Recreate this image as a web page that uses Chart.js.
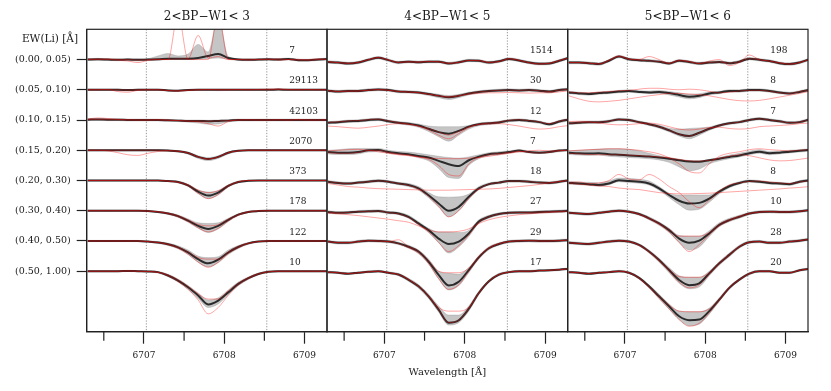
<!DOCTYPE html>
<html>
<head>
<meta charset="utf-8">
<script src="https://cdn.jsdelivr.net/npm/chart.js@4.4.1/dist/chart.umd.min.js"></script>
<style>
html, body { margin: 0; padding: 0; background: #fff; }
#wrap { position: relative; width: 831px; height: 391px; overflow: hidden; }
canvas { position: absolute; top: 0; }
</style>
</head>
<body>
<div id="wrap">
  <canvas id="c1" width="328" height="391" style="left:0px;width:328px;height:391px"></canvas>
  <canvas id="c2" width="255" height="391" style="left:320px;width:255px;height:391px"></canvas>
  <canvas id="c3" width="260" height="391" style="left:560px;width:260px;height:391px"></canvas>
</div>
<script>
// wavelength grid of the sampled spectra
var wl = [6706.300,6706.425,6706.550,6706.675,6706.800,6706.925,6707.050,6707.175,6707.300,6707.425,6707.550,6707.675,
          6707.800,6707.925,6708.050,6708.175,6708.300,6708.425,6708.550,6708.675,6708.800,6708.925,6709.050,6709.175,6709.300];

var ewBins = ['(0.00, 0.05)','(0.05, 0.10)','(0.10, 0.15)','(0.15, 0.20)','(0.20, 0.30)','(0.30, 0.40)','(0.40, 0.50)','(0.50, 1.00)'];
var panelTitles = ['2<BP\u2212W1< 3','4<BP\u2212W1< 5','5<BP\u2212W1< 6'];
var counts1 = [7, 29113, 42103, 2070, 373, 178, 122, 10];
var counts2 = [1514, 30, 12, 7, 18, 27, 29, 17];
var counts3 = [198, 8, 7, 6, 8, 10, 28, 20];
var majorTicks = [6707, 6708, 6709];
var minorTicks = [6706.5, 6707.5, 6708.5];
var liWindow = [6707.03, 6708.53];
var countPos = 6708.81;

// panel 1 : mean, band and a couple of single spectra (offsets from each row's baseline)
var mean1 = [
 [0,0.01,0,-0.01,0,-0.01,0,0.01,0.03,0.03,0.03,0.05,0.12,0.18,0.05,0,-0.01,0,0.01,0,0.02,-0.02,-0.02,0,0.02],
 [0,0,0,0,-0.01,0,0,0,-0.02,-0.03,-0.01,0,0,0,0,0,0,0,0,0.01,0,0,0,0,0],
 [0.01,0.02,0.01,0.01,0,0,0,0,-0.01,-0.02,-0.03,-0.03,-0.04,-0.03,-0.02,0,0,0,0,0,0,0,0,0,0],
 [0,0,0,0,0,0,0,0,-0.01,-0.03,-0.09,-0.22,-0.29,-0.22,-0.08,-0.02,0,0,0,0,0,0,0,0,0],
 [0,0,0,0,0,0,0,0,-0.02,-0.05,-0.16,-0.37,-0.5,-0.4,-0.18,-0.05,-0.01,0,0,0,0,0,0,0,0],
 [0,0,0,0,0,0,-0.01,-0.04,-0.09,-0.18,-0.33,-0.5,-0.6,-0.5,-0.3,-0.13,-0.04,-0.01,0,0,0,0,0,0,0],
 [0,0,0,0,0,0,-0.02,-0.05,-0.11,-0.21,-0.38,-0.6,-0.74,-0.62,-0.38,-0.2,-0.08,-0.02,0,0,0,0,0,0,0],
 [0,0,0,0,0.01,0,-0.01,-0.03,-0.14,-0.31,-0.53,-0.8,-1.1,-0.97,-0.7,-0.42,-0.23,-0.09,-0.02,0,0,0,0,0,0]
];
var lo1 = [
 [-0.03,-0.02,-0.03,-0.04,-0.03,-0.05,-0.03,-0.02,0,0,0,0.01,0.03,0.05,0.01,-0.03,-0.04,-0.03,-0.02,-0.03,-0.01,-0.05,-0.05,-0.03,-0.01],
 [-0.02,-0.02,-0.02,-0.03,-0.04,-0.02,-0.02,-0.02,-0.04,-0.05,-0.03,-0.02,-0.02,-0.03,-0.02,-0.02,-0.02,-0.02,-0.02,-0.01,-0.02,-0.02,-0.02,-0.02,-0.02],
 [-0.02,-0.01,-0.02,-0.02,-0.03,-0.03,-0.03,-0.03,-0.04,-0.05,-0.07,-0.1,-0.14,-0.13,-0.06,-0.03,-0.03,-0.03,-0.03,-0.03,-0.03,-0.03,-0.03,-0.03,-0.03],
 [-0.02,-0.02,-0.02,-0.02,-0.02,-0.02,-0.02,-0.02,-0.03,-0.06,-0.13,-0.27,-0.34,-0.27,-0.12,-0.04,-0.02,-0.02,-0.02,-0.02,-0.02,-0.02,-0.02,-0.02,-0.02],
 [-0.02,-0.02,-0.02,-0.02,-0.02,-0.02,-0.02,-0.02,-0.04,-0.08,-0.2,-0.44,-0.6,-0.48,-0.22,-0.08,-0.03,-0.02,-0.02,-0.02,-0.02,-0.02,-0.02,-0.02,-0.02],
 [-0.02,-0.02,-0.02,-0.02,-0.02,-0.02,-0.03,-0.06,-0.12,-0.22,-0.38,-0.58,-0.72,-0.6,-0.36,-0.16,-0.06,-0.03,-0.02,-0.02,-0.02,-0.02,-0.02,-0.02,-0.02],
 [-0.02,-0.02,-0.02,-0.02,-0.02,-0.02,-0.04,-0.08,-0.15,-0.26,-0.45,-0.7,-0.86,-0.72,-0.45,-0.25,-0.11,-0.04,-0.02,-0.02,-0.02,-0.02,-0.02,-0.02,-0.02],
 [-0.02,-0.02,-0.02,-0.02,-0.01,-0.02,-0.03,-0.06,-0.18,-0.36,-0.6,-0.9,-1.2,-1.08,-0.78,-0.48,-0.27,-0.12,-0.04,-0.02,-0.02,-0.02,-0.02,-0.02,-0.02]
];
var hi1 = [
 [0.03,0.04,0.03,0.02,0.03,0.02,0.03,0.12,0.2,0.12,0.18,0.5,0.25,1.4,0.1,0.03,0.02,0.03,0.04,0.03,0.05,0.01,0.01,0.03,0.05],
 [0.02,0.02,0.02,0.02,0.01,0.02,0.02,0.02,0,-0.01,0.01,0.02,0.02,0.02,0.02,0.02,0.02,0.02,0.02,0.03,0.02,0.02,0.02,0.02,0.02],
 [0.04,0.05,0.04,0.04,0.03,0.03,0.03,0.03,0.02,0.01,0,0,-0.01,0,0.01,0.03,0.03,0.03,0.03,0.03,0.03,0.03,0.03,0.03,0.03],
 [0.02,0.02,0.02,0.02,0.02,0.02,0.02,0.02,0.01,-0.01,-0.06,-0.18,-0.24,-0.18,-0.05,0,0.02,0.02,0.02,0.02,0.02,0.02,0.02,0.02,0.02],
 [0.02,0.02,0.02,0.02,0.02,0.02,0.02,0.02,0,-0.02,-0.12,-0.31,-0.38,-0.33,-0.14,-0.02,0.01,0.02,0.02,0.02,0.02,0.02,0.02,0.02,0.02],
 [0.02,0.02,0.02,0.02,0.02,0.02,0.01,-0.02,-0.06,-0.14,-0.27,-0.4,-0.42,-0.4,-0.25,-0.1,-0.02,0.01,0.02,0.02,0.02,0.02,0.02,0.02,0.02],
 [0.02,0.02,0.02,0.02,0.02,0.02,0,-0.02,-0.07,-0.16,-0.3,-0.5,-0.55,-0.52,-0.3,-0.15,-0.05,0,0.02,0.02,0.02,0.02,0.02,0.02,0.02],
 [0.02,0.02,0.02,0.02,0.03,0.02,0.01,-0.01,-0.1,-0.26,-0.47,-0.72,-0.95,-0.88,-0.62,-0.36,-0.19,-0.06,0,0.02,0.02,0.02,0.02,0.02,0.02]
];
var redA1 = [
 [0,0.02,0,-0.02,-0.05,-0.1,-0.03,0,0,1.5,0,0,0,1.5,0,0,-0.02,0,0,0.02,0,-0.02,0,0.02,0],
 [0,0,0.01,-0.06,-0.08,-0.02,0,0,-0.03,-0.05,-0.02,0,0.01,0,0,0.01,0,0.01,0.02,0.03,0.01,0,0.01,0,0],
 [0.03,0.07,0.05,0.02,0.01,0,0,0.01,0,-0.02,-0.04,-0.06,-0.12,-0.2,-0.05,0,0.01,0,0,0.01,0,0.02,0,0,0.01],
 [0,0,-0.02,-0.08,-0.15,-0.17,-0.1,-0.04,-0.02,-0.03,-0.09,-0.22,-0.29,-0.22,-0.08,-0.02,0,0,0,0,0,0,0,0,0],
 [0,0,0,0,0,0,0,0,-0.02,-0.05,-0.14,-0.32,-0.4,-0.34,-0.16,-0.04,0,0,0,0,0,0,0,0,0],
 [0,0,0,0,0,0,-0.01,-0.03,-0.08,-0.16,-0.3,-0.45,-0.5,-0.46,-0.28,-0.12,-0.03,0,0,0,0,0,0,0,0],
 [0,0,0,0,0,0,-0.02,-0.05,-0.1,-0.2,-0.36,-0.55,-0.6,-0.6,-0.36,-0.18,-0.07,-0.02,0,0,0,0,0,0,0],
 [0,0,0,0,0.01,0,-0.01,-0.03,-0.12,-0.28,-0.5,-0.75,-0.92,-0.92,-0.65,-0.4,-0.21,-0.08,-0.02,0,0,0,0,0,0]
];
var redB1 = [
 [0.01,0,0.02,0,0,-0.02,0,0.01,0,0.02,0.02,0.8,0.05,0.1,0,0,0.01,0,0.02,-0.02,0,0.01,-0.03,0,0.02],
 null, null, null,
 [0,0,0,0,0,0,0,0,-0.02,-0.06,-0.18,-0.42,-0.6,-0.46,-0.2,-0.05,0,0,0,0,0,0,0,0,0],
 [0,0,0,0,0,0,-0.01,-0.04,-0.1,-0.2,-0.36,-0.56,-0.7,-0.58,-0.34,-0.15,-0.05,-0.01,0,0,0,0,0,0,0],
 [0,0,0,0,0,0,-0.02,-0.05,-0.12,-0.24,-0.44,-0.7,-0.87,-0.7,-0.42,-0.22,-0.09,-0.02,0,0,0,0,0,0,0],
 [0,0,0,0,0.01,0,-0.01,-0.04,-0.15,-0.34,-0.6,-0.95,-1.41,-1.2,-0.8,-0.46,-0.25,-0.1,-0.02,0,0,0,0,0,0]
];

// panel 2
var mean2 = [
 [-0.08,-0.1,-0.13,-0.1,-0.01,0.06,-0.02,-0.1,-0.07,-0.09,-0.07,-0.07,-0.13,-0.09,-0.03,-0.04,-0.1,-0.06,0.02,-0.03,-0.1,-0.14,-0.13,-0.04,0.06],
 [-0.03,-0.06,-0.04,-0.04,-0.01,0.01,-0.01,-0.06,-0.07,-0.09,-0.14,-0.2,-0.25,-0.2,-0.12,-0.07,-0.04,-0.02,-0.01,-0.02,-0.01,-0.03,-0.06,-0.01,0.02],
 [-0.09,-0.07,-0.04,-0.03,0,0.02,-0.04,-0.09,-0.12,-0.18,-0.29,-0.4,-0.45,-0.36,-0.22,-0.14,-0.11,-0.08,-0.02,0,-0.03,-0.07,-0.14,-0.05,0.02],
 [-0.06,-0.08,-0.08,-0.06,0,0.01,-0.06,-0.1,-0.13,-0.19,-0.24,-0.35,-0.46,-0.52,-0.33,-0.21,-0.13,-0.1,-0.06,-0.01,-0.06,-0.08,-0.06,-0.01,0.01],
 [-0.04,-0.08,-0.1,-0.07,-0.04,-0.01,-0.04,-0.1,-0.15,-0.26,-0.49,-0.76,-1.0,-0.87,-0.54,-0.26,-0.12,-0.07,-0.02,-0.02,-0.04,-0.07,-0.08,-0.04,0.01],
 [-0.04,-0.07,-0.06,-0.03,-0.02,-0.01,-0.06,-0.09,-0.2,-0.42,-0.64,-0.92,-1.1,-1.02,-0.75,-0.36,-0.2,-0.11,-0.07,-0.06,-0.06,-0.04,-0.03,-0.02,0],
 [-0.02,-0.06,-0.06,-0.02,0.01,0,-0.02,-0.08,-0.19,-0.35,-0.68,-1.12,-1.47,-1.35,-0.96,-0.54,-0.24,-0.1,-0.02,0,0.01,0,0,0.01,0.03],
 [-0.03,-0.05,-0.08,-0.05,-0.02,0,-0.05,-0.11,-0.28,-0.5,-0.83,-1.27,-1.7,-1.62,-1.24,-0.72,-0.33,-0.11,-0.03,0,0,0.02,0.03,0.05,0.08]
];
var lo2 = [
 [-0.12,-0.14,-0.17,-0.14,-0.05,0.02,-0.06,-0.14,-0.11,-0.13,-0.11,-0.11,-0.17,-0.13,-0.07,-0.08,-0.14,-0.1,-0.02,-0.07,-0.14,-0.18,-0.17,-0.08,0.02],
 [-0.07,-0.1,-0.08,-0.08,-0.05,-0.03,-0.05,-0.1,-0.11,-0.13,-0.19,-0.26,-0.32,-0.26,-0.17,-0.11,-0.08,-0.06,-0.05,-0.06,-0.05,-0.07,-0.1,-0.05,-0.02],
 [-0.13,-0.11,-0.08,-0.07,-0.04,-0.02,-0.08,-0.13,-0.17,-0.24,-0.38,-0.55,-0.7,-0.5,-0.3,-0.19,-0.15,-0.12,-0.06,-0.04,-0.07,-0.11,-0.18,-0.09,-0.02],
 [-0.12,-0.14,-0.14,-0.12,-0.06,-0.05,-0.1,-0.14,-0.17,-0.25,-0.35,-0.6,-0.9,-0.93,-0.5,-0.28,-0.18,-0.15,-0.1,-0.06,-0.09,-0.11,-0.09,-0.05,-0.03],
 [-0.08,-0.12,-0.14,-0.11,-0.08,-0.05,-0.08,-0.14,-0.2,-0.32,-0.57,-0.88,-1.2,-1.0,-0.62,-0.31,-0.16,-0.11,-0.06,-0.06,-0.08,-0.11,-0.12,-0.08,-0.03],
 [-0.08,-0.11,-0.1,-0.07,-0.06,-0.05,-0.1,-0.13,-0.25,-0.48,-0.72,-1.05,-1.4,-1.2,-0.85,-0.42,-0.25,-0.15,-0.11,-0.1,-0.1,-0.08,-0.07,-0.06,-0.04],
 [-0.06,-0.1,-0.1,-0.06,-0.03,-0.04,-0.06,-0.12,-0.24,-0.42,-0.76,-1.25,-1.62,-1.48,-1.05,-0.6,-0.29,-0.14,-0.06,-0.04,-0.03,-0.04,-0.04,-0.03,-0.01],
 [-0.06,-0.08,-0.11,-0.08,-0.05,-0.03,-0.08,-0.15,-0.33,-0.56,-0.9,-1.35,-1.78,-1.7,-1.32,-0.78,-0.37,-0.15,-0.06,-0.03,-0.03,-0.01,0,0.02,0.05]
];
var hi2 = [
 [-0.04,-0.06,-0.09,-0.06,0.03,0.1,0.02,-0.06,-0.03,-0.05,-0.03,-0.03,-0.09,-0.05,0.01,0,-0.06,-0.02,0.06,0.01,-0.06,-0.1,-0.09,0,0.1],
 [0.01,-0.02,0,0,0.03,0.05,0.03,-0.02,-0.03,-0.05,-0.1,-0.15,-0.19,-0.15,-0.08,-0.03,0,0.02,0.03,0.02,0.03,0.01,-0.02,0.03,0.06],
 [-0.05,-0.03,0,0.01,0.04,0.06,0,-0.05,-0.08,-0.13,-0.2,-0.22,-0.22,-0.22,-0.18,-0.1,-0.07,-0.04,0.02,0.04,0.01,-0.03,-0.1,-0.01,0.06],
 [0,0.02,0.05,0.06,0.06,0.06,0,-0.04,-0.06,-0.1,-0.15,-0.2,-0.24,-0.26,-0.22,-0.15,-0.08,-0.05,-0.02,0.02,-0.02,-0.04,-0.02,0.02,0.04],
 [0,-0.04,-0.06,-0.03,0,0.03,0,-0.06,-0.1,-0.2,-0.4,-0.54,-0.55,-0.54,-0.45,-0.2,-0.08,-0.03,0.02,0.02,0,-0.03,-0.04,0,0.05],
 [0,-0.03,-0.02,0.01,0.02,0.03,-0.02,-0.05,-0.15,-0.36,-0.58,-0.7,-0.7,-0.72,-0.65,-0.3,-0.15,-0.07,-0.03,-0.02,-0.02,0,0.01,0.02,0.04],
 [0.02,-0.02,-0.02,0.02,0.05,0.04,0.02,-0.04,-0.14,-0.3,-0.6,-1.0,-1.07,-1.1,-0.88,-0.48,-0.19,-0.06,0.02,0.04,0.05,0.04,0.04,0.05,0.07],
 [0,-0.02,-0.05,-0.02,0.01,0.03,-0.02,-0.07,-0.23,-0.44,-0.76,-1.15,-1.45,-1.45,-1.15,-0.66,-0.29,-0.07,0,0.03,0.03,0.05,0.06,0.08,0.11]
];
var redA2 = [
 [-0.07,-0.1,-0.12,-0.09,0,0.07,-0.01,-0.09,-0.08,-0.08,-0.06,-0.08,-0.12,-0.1,-0.03,-0.03,-0.09,-0.07,0.03,-0.02,-0.11,-0.15,-0.12,-0.03,0.06],
 [-0.03,-0.05,-0.05,-0.04,-0.02,0,-0.02,-0.05,-0.08,-0.1,-0.15,-0.2,-0.22,-0.2,-0.15,-0.12,-0.1,-0.1,-0.09,-0.1,-0.11,-0.1,-0.1,-0.07,-0.03],
 [-0.2,-0.22,-0.25,-0.27,-0.24,-0.2,-0.15,-0.12,-0.14,-0.2,-0.28,-0.4,-0.5,-0.38,-0.22,-0.15,-0.13,-0.12,-0.15,-0.2,-0.26,-0.3,-0.28,-0.22,-0.18],
 [-0.02,0,0.02,0.03,0,-0.05,-0.1,-0.15,-0.18,-0.22,-0.26,-0.27,-0.28,-0.28,-0.26,-0.24,-0.2,-0.15,-0.1,-0.05,-0.02,0,-0.02,-0.01,0],
 [-0.1,-0.15,-0.2,-0.22,-0.25,-0.27,-0.28,-0.29,-0.3,-0.31,-0.32,-0.32,-0.32,-0.31,-0.3,-0.29,-0.28,-0.26,-0.23,-0.2,-0.17,-0.13,-0.08,-0.03,0],
 [-0.08,-0.1,-0.13,-0.16,-0.2,-0.24,-0.28,-0.33,-0.38,-0.5,-0.63,-0.7,-0.7,-0.68,-0.6,-0.42,-0.3,-0.22,-0.17,-0.13,-0.1,-0.08,-0.06,-0.04,-0.02],
 [-0.02,-0.05,-0.05,-0.02,0.01,0,-0.02,0.04,-0.18,-0.33,-0.65,-1.0,-1.05,-1.05,-0.9,-0.5,-0.22,-0.08,-0.02,0.01,0.01,0,0,0.01,0.03],
 [-0.03,-0.05,-0.08,-0.05,-0.02,0,-0.05,-0.11,-0.27,-0.5,-0.82,-1.2,-1.32,-1.32,-1.2,-0.72,-0.33,-0.11,-0.03,0,0,0.02,0.03,0.05,0.08]
];
var redB2 = [
 null, null,
 [-0.08,-0.06,-0.03,-0.02,0.01,0.03,-0.03,-0.08,-0.13,-0.2,-0.33,-0.5,-0.62,-0.45,-0.25,-0.14,-0.1,-0.07,-0.01,0.01,-0.02,-0.06,-0.12,-0.04,0.03],
 [-0.08,-0.1,-0.1,-0.07,-0.01,0,-0.07,-0.12,-0.15,-0.22,-0.3,-0.5,-0.8,-0.85,-0.45,-0.24,-0.14,-0.11,-0.07,-0.03,-0.07,-0.09,-0.07,-0.02,0],
 [-0.04,-0.08,-0.1,-0.07,-0.04,-0.01,-0.04,-0.1,-0.16,-0.28,-0.52,-0.85,-1.2,-1.0,-0.6,-0.28,-0.12,-0.07,-0.02,-0.02,-0.04,-0.07,-0.08,-0.04,0.01],
 [-0.04,-0.07,-0.06,-0.03,-0.02,-0.01,-0.06,-0.1,-0.22,-0.45,-0.7,-1.05,-1.35,-1.15,-0.8,-0.38,-0.2,-0.11,-0.07,-0.06,-0.06,-0.04,-0.03,-0.02,0],
 [-0.02,-0.06,-0.06,-0.02,0.01,0,-0.02,-0.09,-0.22,-0.4,-0.75,-1.25,-1.6,-1.45,-1.0,-0.56,-0.25,-0.1,-0.02,0,0.01,0,0,0.01,0.03],
 null
];

// panel 3
var mean3 = [
 [-0.1,-0.1,-0.12,-0.15,-0.04,0.1,0.01,-0.02,-0.04,-0.07,-0.13,-0.04,-0.08,-0.13,-0.1,-0.08,-0.12,-0.07,0.03,-0.01,-0.05,-0.12,-0.15,-0.1,0.01],
 [-0.09,-0.12,-0.14,-0.11,-0.09,-0.06,-0.04,-0.07,-0.09,-0.07,-0.11,-0.17,-0.23,-0.2,-0.12,-0.09,-0.04,-0.04,-0.01,-0.01,-0.04,-0.09,-0.12,-0.07,0],
 [-0.11,-0.09,-0.07,-0.07,-0.04,0.02,0,-0.07,-0.14,-0.22,-0.34,-0.47,-0.53,-0.42,-0.29,-0.18,-0.11,-0.07,0,0.04,0,-0.04,-0.09,-0.07,0.02],
 [-0.08,-0.1,-0.11,-0.1,-0.13,-0.15,-0.17,-0.19,-0.21,-0.24,-0.28,-0.33,-0.37,-0.38,-0.33,-0.28,-0.22,-0.17,-0.1,-0.05,-0.1,-0.08,-0.05,-0.02,0.01],
 [-0.08,-0.1,-0.12,-0.15,-0.1,0.01,-0.02,-0.04,-0.1,-0.26,-0.48,-0.67,-0.76,-0.74,-0.6,-0.37,-0.19,-0.08,-0.02,-0.04,-0.08,-0.1,-0.12,-0.04,0.01],
 [-0.07,-0.09,-0.11,-0.07,-0.03,0,-0.03,-0.11,-0.25,-0.42,-0.64,-0.92,-1.06,-0.99,-0.75,-0.47,-0.31,-0.2,-0.09,-0.04,-0.03,-0.04,-0.04,-0.02,0.02],
 [-0.06,-0.08,-0.1,-0.06,-0.02,0.01,-0.02,-0.13,-0.35,-0.63,-0.96,-1.29,-1.46,-1.4,-1.07,-0.74,-0.46,-0.19,-0.04,-0.02,-0.06,-0.06,-0.02,0.01,0.06],
 [-0.03,-0.05,-0.08,-0.05,-0.03,0,-0.05,-0.22,-0.5,-0.83,-1.16,-1.49,-1.62,-1.6,-1.32,-0.94,-0.55,-0.28,-0.08,0,0,-0.05,-0.05,0.03,0.08]
];
var lo3 = [
 [-0.14,-0.14,-0.16,-0.19,-0.08,0.06,-0.03,-0.06,-0.08,-0.11,-0.17,-0.08,-0.12,-0.17,-0.14,-0.12,-0.16,-0.11,-0.01,-0.05,-0.09,-0.16,-0.19,-0.14,-0.03],
 [-0.13,-0.16,-0.18,-0.15,-0.13,-0.1,-0.08,-0.11,-0.13,-0.12,-0.17,-0.24,-0.3,-0.26,-0.17,-0.13,-0.08,-0.08,-0.05,-0.05,-0.08,-0.13,-0.16,-0.11,-0.04],
 [-0.15,-0.13,-0.11,-0.11,-0.08,-0.02,-0.04,-0.11,-0.18,-0.27,-0.39,-0.53,-0.62,-0.5,-0.34,-0.22,-0.15,-0.11,-0.04,0,-0.04,-0.08,-0.13,-0.11,-0.02],
 [-0.14,-0.16,-0.17,-0.16,-0.2,-0.22,-0.24,-0.26,-0.28,-0.32,-0.4,-0.55,-0.68,-0.62,-0.45,-0.35,-0.28,-0.22,-0.15,-0.1,-0.15,-0.12,-0.09,-0.06,-0.03],
 [-0.12,-0.14,-0.16,-0.19,-0.14,-0.04,-0.07,-0.09,-0.15,-0.32,-0.56,-0.8,-0.98,-0.95,-0.72,-0.44,-0.24,-0.12,-0.06,-0.08,-0.12,-0.14,-0.16,-0.08,-0.03],
 [-0.11,-0.13,-0.15,-0.11,-0.07,-0.04,-0.07,-0.15,-0.3,-0.48,-0.72,-1.05,-1.3,-1.2,-0.85,-0.53,-0.36,-0.25,-0.13,-0.08,-0.07,-0.08,-0.08,-0.06,-0.02],
 [-0.1,-0.12,-0.14,-0.1,-0.06,-0.03,-0.06,-0.17,-0.4,-0.7,-1.05,-1.4,-1.58,-1.52,-1.15,-0.8,-0.52,-0.24,-0.08,-0.06,-0.1,-0.1,-0.06,-0.03,0.02],
 [-0.06,-0.08,-0.11,-0.08,-0.06,-0.03,-0.08,-0.26,-0.55,-0.9,-1.25,-1.6,-1.8,-1.75,-1.42,-1.0,-0.6,-0.32,-0.12,-0.03,-0.03,-0.08,-0.08,0,0.05]
];
var hi3 = [
 [-0.06,-0.06,-0.08,-0.11,0,0.14,0.05,0.02,0,-0.03,-0.09,0,-0.04,-0.09,-0.06,-0.04,-0.08,-0.03,0.07,0.03,-0.01,-0.08,-0.11,-0.06,0.05],
 [-0.05,-0.08,-0.1,-0.07,-0.05,-0.02,0,-0.03,-0.04,-0.02,-0.06,-0.1,-0.15,-0.13,-0.07,-0.05,0,0,0.03,0.03,0,-0.05,-0.08,-0.03,0.04],
 [-0.07,-0.05,-0.03,-0.03,0,0.06,0.04,-0.03,-0.1,-0.17,-0.27,-0.3,-0.28,-0.26,-0.23,-0.14,-0.07,-0.03,0.04,0.08,0.04,0,-0.05,-0.03,0.06],
 [-0.02,0,0.02,0.04,0.05,0.05,0.03,-0.02,-0.1,-0.18,-0.24,-0.3,-0.34,-0.35,-0.3,-0.24,-0.16,-0.1,-0.03,0.02,-0.04,-0.03,0,0.02,0.05],
 [-0.03,-0.05,-0.06,-0.08,-0.02,0.08,0.07,0.04,-0.02,-0.2,-0.42,-0.48,-0.48,-0.48,-0.48,-0.32,-0.14,-0.04,0.02,0,-0.04,-0.06,-0.08,0,0.05],
 [-0.03,-0.05,-0.07,-0.03,0.01,0.04,0.01,-0.07,-0.2,-0.37,-0.58,-0.82,-0.84,-0.84,-0.66,-0.4,-0.25,-0.15,-0.05,0,0.01,0,0,0.02,0.06],
 [-0.02,-0.04,-0.06,-0.02,0.02,0.05,0.02,-0.09,-0.3,-0.57,-0.88,-1.15,-1.2,-1.2,-1.0,-0.68,-0.4,-0.14,0,0.02,-0.02,-0.02,0.02,0.05,0.1],
 [0,-0.02,-0.05,-0.02,0,0.03,-0.02,-0.18,-0.45,-0.76,-1.08,-1.32,-1.34,-1.34,-1.22,-0.88,-0.5,-0.24,-0.04,0.03,0.03,-0.02,-0.02,0.06,0.11]
];
var redA3 = [
 [-0.1,-0.1,-0.12,-0.14,-0.02,0.12,0.02,0,0.1,0,-0.12,-0.02,-0.06,-0.13,-0.05,0,-0.2,-0.1,0.15,0,-0.05,-0.1,-0.15,-0.1,0.01],
 [-0.2,-0.3,-0.38,-0.4,-0.38,-0.35,-0.3,-0.25,-0.2,-0.16,-0.12,-0.12,-0.14,-0.16,-0.2,-0.26,-0.32,-0.36,-0.37,-0.35,-0.3,-0.24,-0.18,-0.12,-0.05],
 [-0.05,-0.04,-0.06,-0.1,-0.14,-0.16,-0.15,-0.12,-0.1,-0.14,-0.22,-0.3,-0.33,-0.3,-0.25,-0.24,-0.28,-0.3,-0.28,-0.22,-0.2,-0.18,-0.16,-0.12,-0.1],
 [-0.02,0,0.02,0.03,0.05,0.05,0.03,0,-0.05,-0.12,-0.25,-0.45,-0.7,-0.75,-0.45,-0.2,-0.1,-0.05,0.02,0.05,0.02,0,-0.02,0,0.02],
 [-0.06,-0.05,-0.1,-0.08,0,0.2,0.05,0.02,0.2,0.05,-0.2,-0.4,-0.7,-0.9,-0.65,-0.35,-0.15,-0.08,-0.03,-0.02,-0.05,-0.08,-0.1,-0.05,0],
 [-0.07,-0.09,-0.1,-0.07,-0.03,0,-0.03,-0.11,-0.24,-0.41,-0.62,-0.84,-0.84,-0.84,-0.72,-0.45,-0.29,-0.18,-0.08,-0.04,-0.03,-0.04,-0.04,-0.02,0.02],
 [-0.06,-0.08,-0.1,-0.06,-0.02,0.01,-0.02,-0.13,-0.34,-0.62,-0.94,-1.18,-1.2,-1.2,-1.05,-0.72,-0.44,-0.18,-0.04,-0.02,-0.06,-0.06,-0.02,0.01,0.06],
 [-0.03,-0.05,-0.08,-0.05,-0.03,0,-0.05,-0.22,-0.5,-0.82,-1.12,-1.32,-1.34,-1.34,-1.25,-0.92,-0.53,-0.27,-0.08,0,0,-0.05,-0.05,0.03,0.08]
];
var redB3 = [
 null,
 [-0.07,-0.1,-0.1,-0.08,-0.06,-0.03,-0.02,0.02,0.05,0.05,0.02,0,0.02,0,-0.05,-0.1,-0.08,-0.04,-0.02,-0.02,-0.05,-0.1,-0.12,-0.06,0],
 null,
 [-0.1,-0.12,-0.14,-0.15,-0.15,-0.15,-0.16,-0.18,-0.2,-0.22,-0.25,-0.3,-0.35,-0.36,-0.33,-0.27,-0.2,-0.15,-0.18,-0.25,-0.32,-0.35,-0.34,-0.3,-0.25],
 [-0.1,-0.12,-0.15,-0.18,-0.2,-0.25,-0.28,-0.3,-0.35,-0.4,-0.43,-0.44,-0.44,-0.43,-0.42,-0.4,-0.38,-0.36,-0.34,-0.32,-0.3,-0.28,-0.25,-0.23,-0.2],
 [-0.07,-0.09,-0.11,-0.07,-0.03,0,-0.03,-0.12,-0.27,-0.45,-0.7,-1.05,-1.35,-1.12,-0.8,-0.5,-0.33,-0.21,-0.1,-0.05,-0.03,-0.04,-0.04,-0.02,0.02],
 [-0.06,-0.08,-0.1,-0.06,-0.02,0.01,-0.02,-0.14,-0.37,-0.66,-1.0,-1.36,-1.55,-1.45,-1.1,-0.76,-0.48,-0.2,-0.04,-0.02,-0.06,-0.06,-0.02,0.01,0.06],
 [-0.03,-0.05,-0.08,-0.05,-0.03,0,-0.05,-0.24,-0.55,-0.9,-1.25,-1.6,-1.82,-1.72,-1.38,-0.97,-0.57,-0.29,-0.08,0,0,-0.05,-0.05,0.03,0.08]
];

var txtCol = '#1a1a1a';
var axisCol = '#222';
var serif = 'DejaVu Serif';

function buildDatasets(mean, lo, hi, redA, redB) {
    var ds = [];
    mean.forEach(function(row, i) {
        var pts = function(arr) { return wl.map(function(x, j) { return {x: x, y: arr[j] - i}; }); };
        ds.push({data: pts(lo[i]), borderColor: 'rgba(140,140,140,0.55)', borderWidth: 0.6, fill: false, order: 3});
        ds.push({data: pts(hi[i]), borderColor: 'rgba(140,140,140,0.55)', borderWidth: 0.6,
                 backgroundColor: 'rgba(150,150,150,0.55)', fill: '-1', order: 3});
        ds.push({data: pts(row), borderColor: '#2b2b2b', borderWidth: 2, order: 2});
        [redA[i], redB[i] || row].forEach(function(r) {
            ds.push({data: pts(r), borderColor: 'rgba(255,0,0,0.45)', borderWidth: 0.8, order: 1});
        });
    });
    return ds;
}

function decoPlugin(k, counts) {
    return {
        id: 'deco' + k,
        beforeDatasetsDraw: function(chart) {
            var ctx = chart.ctx, a = chart.chartArea, x = chart.scales.x;
            ctx.save();
            ctx.strokeStyle = '#777';
            ctx.lineWidth = 0.8;
            ctx.setLineDash([1.2, 1.6]);
            liWindow.forEach(function(w) {
                var px = x.getPixelForValue(w);
                ctx.beginPath(); ctx.moveTo(px, a.top); ctx.lineTo(px, a.bottom); ctx.stroke();
            });
            ctx.restore();
        },
        afterDatasetsDraw: function(chart) {
            var ctx = chart.ctx, x = chart.scales.x, y = chart.scales.y;
            ctx.save();
            ctx.fillStyle = txtCol;
            ctx.font = '9px "' + serif + '"';
            ctx.textAlign = 'left';
            ctx.textBaseline = 'middle';
            counts.forEach(function(n, i) {
                ctx.fillText(String(n), x.getPixelForValue(countPos), y.getPixelForValue(-i + 0.29));
            });
            ctx.restore();
        },
        afterDraw: function(chart) {
            var ctx = chart.ctx, a = chart.chartArea, x = chart.scales.x;
            ctx.save();
            ctx.strokeStyle = axisCol;
            ctx.lineWidth = 1.2;
            ctx.strokeRect(a.left, a.top, a.right - a.left, a.bottom - a.top);
            minorTicks.forEach(function(v) {
                var px = x.getPixelForValue(v);
                ctx.beginPath(); ctx.moveTo(px, a.bottom); ctx.lineTo(px, a.bottom + 9); ctx.stroke();
            });
            ctx.fillStyle = txtCol;
            ctx.textAlign = 'center';
            ctx.textBaseline = 'middle';
            ctx.font = '12px "' + serif + '"';
            ctx.fillText(panelTitles[k], (a.left + a.right) / 2, 16.5);
            if (k === 0) {
                ctx.font = '10.5px "' + serif + '"';
                ctx.fillText('EW(Li) [\u00c5]', 50, 39);
            }
            if (k === 1) {
                ctx.font = '10px "' + serif + '"';
                ctx.fillText('Wavelength [\u00c5]', (a.left + a.right) / 2, 372.5);
            }
            ctx.restore();
        }
    };
}

function createPanel(id, k, mean, lo, hi, redA, redB, counts, padL, padR) {
    var showY = (k === 0);
    return new Chart(document.getElementById(id), {
        type: 'line',
        data: {datasets: buildDatasets(mean, lo, hi, redA, redB)},
        plugins: [decoPlugin(k, counts)],
        options: {
            responsive: false,
            animation: false,
            events: [],
            layout: {padding: {top: 29.3, left: padL, right: padR, bottom: 0}},
            elements: {point: {radius: 0}, line: {cubicInterpolationMode: 'monotone'}},
            plugins: {legend: {display: false}, tooltip: {enabled: false}},
            scales: {
                x: {
                    type: 'linear', min: 6706.287, max: 6709.28,
                    afterFit: function(s) { s.height = 59.3; },
                    afterBuildTicks: function(s) { s.ticks = majorTicks.map(function(v) { return {value: v}; }); },
                    ticks: {callback: function(v) { return String(v); }, color: txtCol, font: {family: serif, size: 9},
                            padding: 7, maxRotation: 0, autoSkip: false},
                    grid: {drawOnChartArea: false, drawTicks: true, tickLength: 12, tickColor: axisCol, tickWidth: 1.2},
                    border: {display: true, color: axisCol, width: 1.2}
                },
                y: {
                    type: 'linear', min: -9, max: 1, display: showY,
                    afterFit: function(s) { s.width = showY ? 86.7 : 0; },
                    afterBuildTicks: function(s) { s.ticks = ewBins.map(function(b, i) { return {value: -i}; }); },
                    ticks: {callback: function(v) { return ewBins[Math.round(-v)]; }, color: txtCol,
                            font: {family: serif, size: 9.5}, padding: 6, autoSkip: false},
                    grid: {drawOnChartArea: false, drawTicks: true, tickLength: 10, tickColor: axisCol, tickWidth: 1.2},
                    border: {display: true, color: axisCol, width: 1.2}
                }
            }
        }
    });
}

createPanel('c1', 0, mean1, lo1, hi1, redA1, redB1, counts1, 0, 1);
createPanel('c2', 1, mean2, lo2, hi2, redA2, redB2, counts2, 7, 7.3);
createPanel('c3', 2, mean3, lo3, hi3, redA3, redB3, counts3, 7.7, 12);
</script>
</body>
</html>
